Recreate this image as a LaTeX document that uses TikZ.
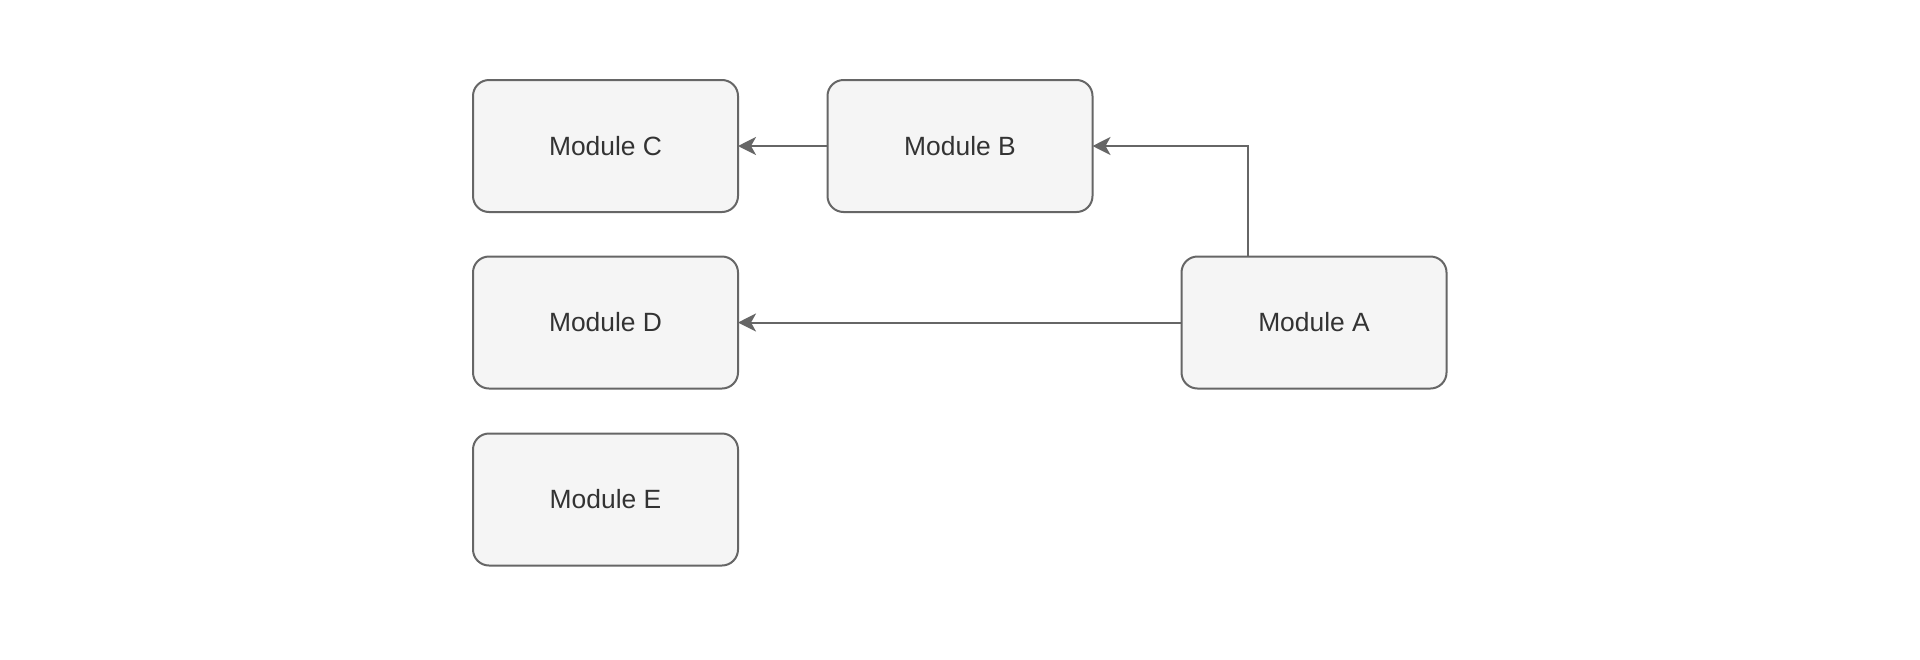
\documentclass[tikz,border=0pt]{standalone}
\usepackage{fontspec}
\setmainfont{Liberation Sans}
\usetikzlibrary{arrows.meta}
\definecolor{boxfill}{HTML}{F5F5F5}
\definecolor{boxline}{HTML}{666666}
\definecolor{boxtext}{HTML}{333333}
\tikzset{
  modbox/.style={rectangle, rounded corners=8pt, draw=boxline, fill=boxfill,
    line width=1pt, minimum width=132.5pt, minimum height=66pt,
    inner sep=0pt, outer sep=0pt, text=boxtext,
    font=\fontsize{13.2pt}{15pt}\selectfont},
  conn/.style={draw=boxline, line width=1pt,
    -{Stealth[length=9pt, width=9pt, inset=2.5pt]}}
}
\begin{document}
\begin{tikzpicture}[x=0.5pt, y=-0.5pt]
\useasboundingbox[fill=white] (0,0) rectangle (1920,659);
\node[modbox] (C) at (605.5,146) {Module C};
\node[modbox] (B) at (960,146) {Module B};
\node[modbox] (D) at (605.5,322.5) {Module D};
\node[modbox] (A) at (1314,322.5) {Module A};
\node[modbox] (E) at (605.5,499.5) {Module E};
\coordinate (Aout) at ([xshift=-33pt]A.north);
\draw[conn] (B.west) -- (C.east);
\draw[conn] (Aout) |- (B.east);
\draw[conn] (A.west) -- (D.east);
\end{tikzpicture}
\end{document}
